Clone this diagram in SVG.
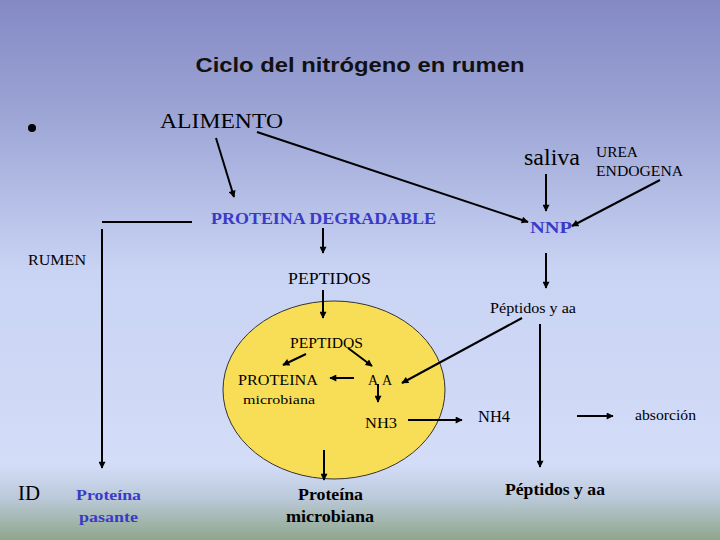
<svg xmlns="http://www.w3.org/2000/svg" width="720" height="540" viewBox="0 0 720 540">
<defs>
<linearGradient id="bg" x1="0" y1="0" x2="0" y2="1">
<stop offset="0" stop-color="#8489c4"/>
<stop offset="0.2" stop-color="#9ba3d4"/>
<stop offset="0.5" stop-color="#c9d3f3"/>
<stop offset="0.86" stop-color="#d3ddf8"/>
<stop offset="0.92" stop-color="#bccadb"/>
<stop offset="1" stop-color="#8fa68b"/>
</linearGradient>
<marker id="ah" viewBox="0 0 10 10" refX="9" refY="5" markerWidth="9" markerHeight="7" markerUnits="userSpaceOnUse" orient="auto">
<path d="M0,0 L10,5 L0,10 z" fill="#000"/>
</marker>
<style>
.t{font-family:"Liberation Serif","Times New Roman",serif;fill:#000}
.b{font-weight:bold}
.blue{fill:#3a3ac8}
.ln{stroke:#000;stroke-width:2;fill:none}
.a{stroke:#000;stroke-width:2;fill:none;marker-end:url(#ah)}
</style>
</defs>
<rect width="720" height="540" fill="url(#bg)"/>
<text x="360" y="72" text-anchor="middle" font-family="Liberation Sans, Arial, sans-serif" font-size="20" font-weight="bold" textLength="329" lengthAdjust="spacingAndGlyphs" fill="#111">Ciclo del nitrógeno en rumen</text>
<circle cx="32" cy="128" r="4" fill="#000"/>

<g id="rumen-ellipse"><ellipse cx="334" cy="390" rx="111" ry="89" fill="#f8de57" stroke="#333" stroke-width="1"/></g>

<g id="alimento"><text class="t" x="160" y="128" font-size="22" textLength="123" lengthAdjust="spacingAndGlyphs">ALIMENTO</text></g>
<g id="saliva"><text class="t" x="524" y="165" font-size="24" textLength="56" lengthAdjust="spacingAndGlyphs">saliva</text></g>
<g id="urea"><text class="t" x="596" y="157" font-size="14" textLength="42" lengthAdjust="spacingAndGlyphs">UREA</text><text class="t" x="596" y="176" font-size="14" textLength="87" lengthAdjust="spacingAndGlyphs">ENDOGENA</text></g>
<g id="proteina-degradable"><text class="t b blue" x="211" y="224" font-size="16" textLength="225" lengthAdjust="spacingAndGlyphs">PROTEINA DEGRADABLE</text></g>
<g id="nnp"><text class="t b blue" x="530" y="233" font-size="16" textLength="42" lengthAdjust="spacingAndGlyphs">NNP</text></g>
<g id="rumen"><text class="t" x="28" y="265" font-size="14" textLength="58" lengthAdjust="spacingAndGlyphs">RUMEN</text></g>
<g id="peptidos"><text class="t" x="288" y="284" font-size="16" textLength="83" lengthAdjust="spacingAndGlyphs">PEPTIDOS</text></g>
<g id="peptidos-aa"><text class="t" x="490" y="313" font-size="14" textLength="86" lengthAdjust="spacingAndGlyphs">Péptidos y aa</text></g>
<g id="peptidos-in"><text class="t" x="290" y="348" font-size="14" textLength="73" lengthAdjust="spacingAndGlyphs">PEPTIDOS</text></g>
<g id="proteina-microbiana-in"><text class="t" x="238" y="385" font-size="14" textLength="80" lengthAdjust="spacingAndGlyphs">PROTEINA</text><text class="t" x="243" y="404" font-size="13" textLength="72" lengthAdjust="spacingAndGlyphs">microbiana</text></g>
<g id="aa"><text class="t" x="368" y="385" font-size="14" textLength="24" lengthAdjust="spacing">AA</text></g>
<g id="nh3"><text class="t" x="365" y="428" font-size="14" textLength="32" lengthAdjust="spacingAndGlyphs">NH3</text></g>
<g id="nh4"><text class="t" x="478" y="422" font-size="16" textLength="32" lengthAdjust="spacingAndGlyphs">NH4</text></g>
<g id="absorcion"><text class="t" x="635" y="420" font-size="14" textLength="61" lengthAdjust="spacingAndGlyphs">absorción</text></g>
<g id="id"><text class="t" x="18" y="500" font-size="20" textLength="22" lengthAdjust="spacingAndGlyphs">ID</text></g>
<g id="proteina-pasante"><text class="t b blue" x="76" y="500" font-size="15" textLength="65" lengthAdjust="spacingAndGlyphs">Proteína</text><text class="t b blue" x="79" y="522" font-size="15" textLength="59" lengthAdjust="spacingAndGlyphs">pasante</text></g>
<g id="proteina-microbiana"><text class="t b" x="298" y="500" font-size="16" textLength="65" lengthAdjust="spacingAndGlyphs">Proteína</text><text class="t b" x="286" y="522" font-size="16" textLength="88" lengthAdjust="spacingAndGlyphs">microbiana</text></g>
<g id="peptidos-aa-out"><text class="t b" x="505" y="495" font-size="16" textLength="100" lengthAdjust="spacingAndGlyphs">Péptidos y aa</text></g>

<g id="connectors">
<line class="a" x1="216" y1="138" x2="234" y2="197"/>
<line class="a" x1="257" y1="132" x2="528" y2="222"/>
<line class="a" x1="546" y1="174" x2="546" y2="211"/>
<line class="a" x1="660" y1="180" x2="572" y2="226"/>
<line class="ln" x1="102" y1="222" x2="192" y2="222"/>
<line class="a" x1="102" y1="229" x2="102" y2="468"/>
<line class="a" x1="323" y1="228" x2="323" y2="253"/>
<line class="a" x1="546" y1="253" x2="546" y2="288"/>
<line class="a" x1="323" y1="290" x2="323" y2="318"/>
<line class="a" x1="522" y1="318" x2="402" y2="383"/>
<line class="a" x1="540" y1="324" x2="540" y2="467"/>
<line class="a" x1="306" y1="354" x2="283" y2="365"/>
<line class="a" x1="348" y1="348" x2="372" y2="366"/>
<line class="a" x1="354" y1="378" x2="330" y2="378"/>
<line class="a" x1="378" y1="384" x2="378" y2="402"/>
<line class="a" x1="408" y1="420" x2="462" y2="420"/>
<line class="a" x1="577" y1="416" x2="613" y2="416"/>
<line class="a" x1="324" y1="450" x2="324" y2="480"/>
</g>
</svg>
